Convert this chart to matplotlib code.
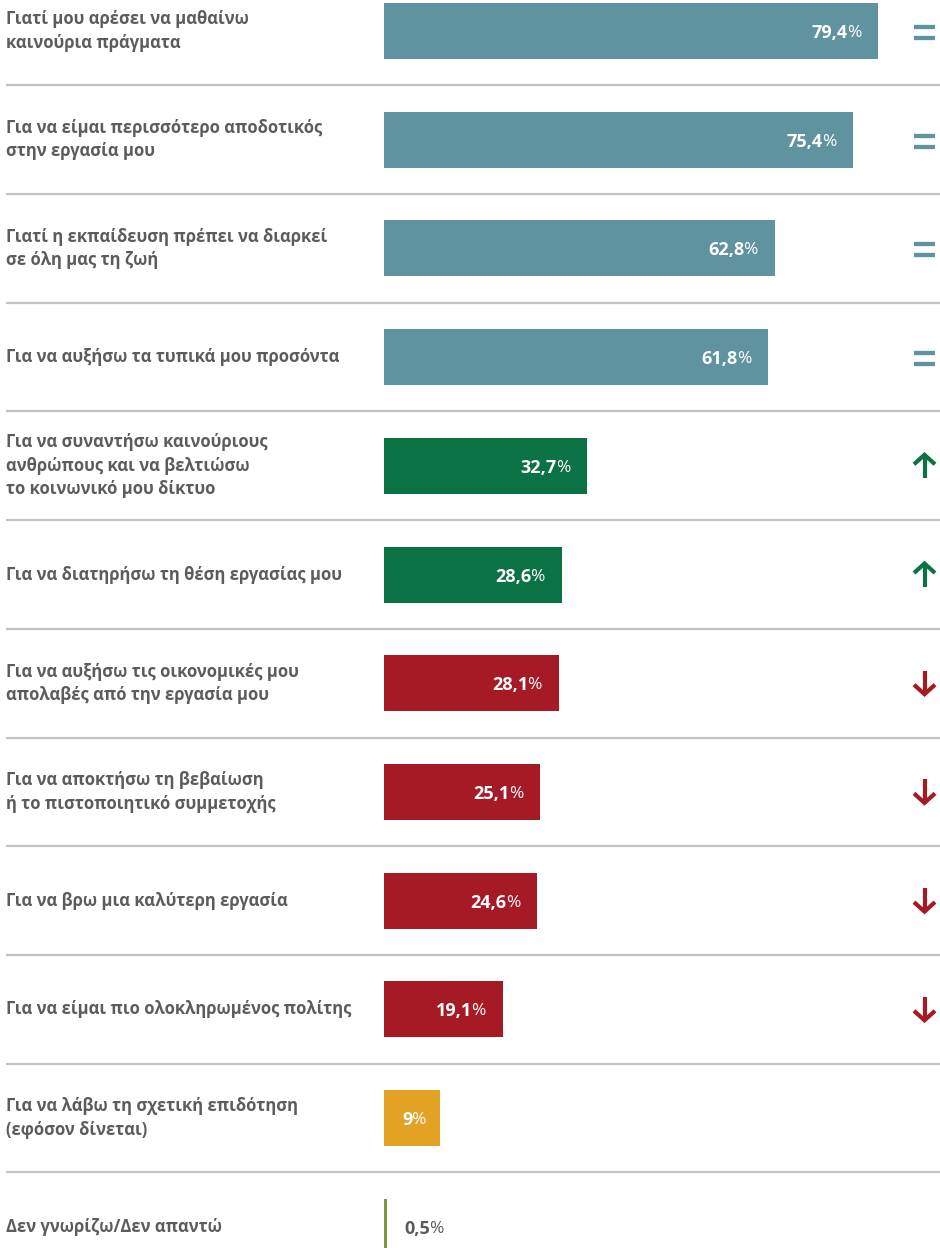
import matplotlib
matplotlib.use("Agg")
import matplotlib.pyplot as plt
import matplotlib.transforms as mtransforms

plt.rcParams['font.family'] = ['Open Sans', 'DejaVu Sans']

# Δεδομένα
labels = [
    "Γιατί μου αρέσει να μαθαίνω\nκαινούρια πράγματα",
    "Για να είμαι περισσότερο αποδοτικός\nστην εργασία μου",
    "Γιατί η εκπαίδευση πρέπει να διαρκεί\nσε όλη μας τη ζωή",
    "Για να αυξήσω τα τυπικά μου προσόντα",
    "Για να συναντήσω καινούριους\nανθρώπους και να βελτιώσω\nτο κοινωνικό μου δίκτυο",
    "Για να διατηρήσω τη θέση εργασίας μου",
    "Για να αυξήσω τις οικονομικές μου\nαπολαβές από την εργασία μου",
    "Για να αποκτήσω τη βεβαίωση\nή το πιστοποιητικό συμμετοχής",
    "Για να βρω μια καλύτερη εργασία",
    "Για να είμαι πιο ολοκληρωμένος πολίτης",
    "Για να λάβω τη σχετική επιδότηση\n(εφόσον δίνεται)",
    "Δεν γνωρίζω/Δεν απαντώ",
]
values = [79.4, 75.4, 62.8, 61.8, 32.7, 28.6, 28.1, 25.1, 24.6, 19.1, 9, 0.5]
value_text = ["79,4", "75,4", "62,8", "61,8", "32,7", "28,6", "28,1", "25,1",
              "24,6", "19,1", "9", "0,5"]
trend = ["eq", "eq", "eq", "eq", "up", "up", "down", "down", "down", "down", "", ""]

TEAL = "#5f93a0"
GREEN = "#0b7244"
RED = "#a51a24"
YELLOW = "#e2a224"
OLIVE = "#7a9a3a"
GREY = "#5c5c5c"
colors = [TEAL] * 4 + [GREEN] * 2 + [RED] * 4 + [YELLOW, OLIVE]
trend_color = {"eq": TEAL, "up": GREEN, "down": RED}

W, H = 940, 1248
fig = plt.figure(figsize=(W / 100, H / 100), dpi=100)
ax = fig.add_axes([0, 0, 1, 1])

# κλίμακα: 0% στα 384px, 79,4% στα 878px
ppu = (878 - 384) / 79.4
ax.set_xlim(-384 / ppu, (W - 384) / ppu)
pitch = 108.7
ax.set_ylim((H - 31) / pitch, -31 / pitch)
ax.axis('off')

n = len(values)
ys = list(range(n))
ax.barh(ys, values, height=56 / pitch, color=colors, left=0)

# διαχωριστικές γραμμές
for i in range(n - 1):
    ax.plot([-378 / ppu, (W - 384) / ppu], [i + 0.5, i + 0.5],
            color="#c4c4c4", lw=1.6, solid_capstyle='butt')

ytr = ax.get_yaxis_transform()
for i, lab in enumerate(labels):
    ax.text(6 / W, i, lab, transform=ytr, ha='left', va='center',
            fontsize=12, fontweight='bold', color=GREY, linespacing=1.38)

fig.canvas.draw()
rend = fig.canvas.get_renderer()

for i, (v, t) in enumerate(zip(values, value_text)):
    if v > 3:
        pad = -17 if v > 12 else -14
        tr = mtransforms.offset_copy(ax.transData, fig, x=pad, y=0, units='dots')
        pct = ax.text(v, i, "%", transform=tr, ha='right', va='center_baseline',
                      fontsize=12.5, color='white')
        w = pct.get_window_extent(rend).width
        tr2 = mtransforms.offset_copy(ax.transData, fig, x=pad - w + 1, y=0, units='dots')
        ax.text(v, i, t, transform=tr2, ha='right', va='center_baseline',
                fontsize=13, fontweight='bold', color='white')
    else:
        tr = mtransforms.offset_copy(ax.transData, fig, x=17, y=0, units='dots')
        num = ax.text(v, i, t, transform=tr, ha='left', va='center_baseline',
                      fontsize=13, fontweight='bold', color=GREY)
        w = num.get_window_extent(rend).width
        tr2 = mtransforms.offset_copy(ax.transData, fig, x=17 + w - 1, y=0, units='dots')
        ax.text(v, i, "%", transform=tr2, ha='left', va='center_baseline',
                fontsize=12.5, color=GREY)

# δείκτες τάσης
xi = 924.5 / W
dx = 10.5 / W
py = 1 / pitch
for i, tk in enumerate(trend):
    c = trend_color.get(tk)
    if tk == "eq":
        for off in (-5.5, 5.5):
            yy = i + (1.5 + off) * py
            ax.plot([xi - dx, xi + dx], [yy, yy], transform=ytr, color=c,
                    lw=3.1, solid_capstyle='butt')
    elif tk in ("up", "down"):
        s = 1 if tk == "up" else -1
        tip = i - s * 12.5 * py
        tail = i + s * 12.5 * py
        ax.plot([xi, xi], [tail, tip + s * 1.5 * py], transform=ytr, color=c,
                lw=3, solid_capstyle='butt')
        ax.plot([xi - dx, xi, xi + dx],
                [tip + s * 11 * py, tip + s * 1.5 * py, tip + s * 11 * py],
                transform=ytr, color=c, lw=3, solid_joinstyle='miter',
                solid_capstyle='butt')

fig.savefig("out.png", dpi=100)
